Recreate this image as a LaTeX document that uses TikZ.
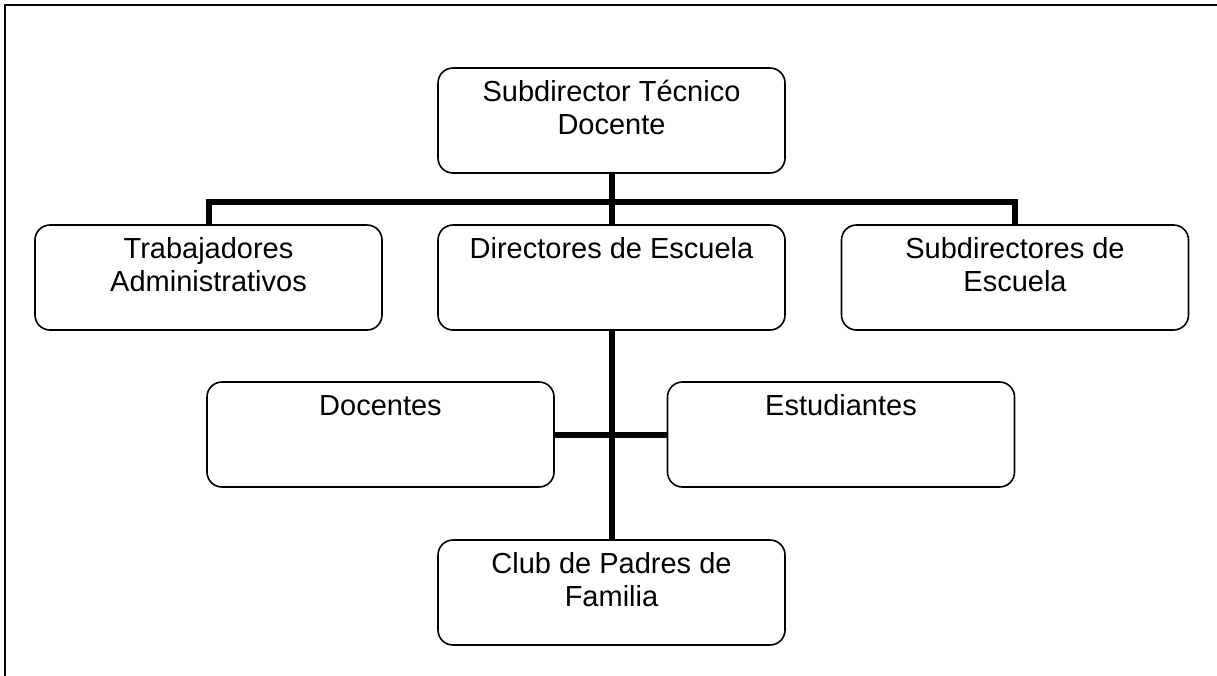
\documentclass[tikz,border=0pt]{standalone}
\usepackage{fontspec}
\setmainfont{Liberation Sans}
\begin{document}
\begin{tikzpicture}[x=1pt,y=-1pt,
  orgbox/.style={draw=black, line width=1.6pt, rounded corners=15pt, fill=white,
    minimum width=347pt, minimum height=105pt, inner sep=0pt},
  lbl/.style={align=center, inner sep=0pt, anchor=base,
    font=\fontsize{29}{33}\selectfont},
  conn/.style={line width=6pt, line join=miter, black},
  frameline/.style={line width=2.5pt, black}]
\useasboundingbox (0,0) rectangle (1217,675);
\draw[frameline] (5,676) -- (5,5) -- (1218,5);

\node[orgbox] (top)  at (611.5,120.5) {};
\node[orgbox] (trab) at (208.5,277.5) {};
\node[orgbox] (dir)  at (611.5,277.5) {};
\node[orgbox] (subd) at (1015,277.5) {};
\node[orgbox] (doc)  at (380.5,434.5) {};
\node[orgbox] (est)  at (841,434.5) {};
\node[orgbox] (club) at (611.5,592.5) {};

% base anchor of a two-line label is its last line
\node[lbl] (ttop)  at ([yshift=-67pt]top.north)  {Subdirector Técnico\\Docente};
\node[lbl] (ttrab) at ([yshift=-67pt]trab.north) {Trabajadores\\Administrativos};
\node[lbl] (tdir)  at ([yshift=-34pt]dir.north)  {Directores de Escuela};
\node[lbl] (tsubd) at ([yshift=-67pt]subd.north) {Subdirectores de\\Escuela};
\node[lbl] (tdoc)  at ([yshift=-34pt]doc.north)  {Docentes};
\node[lbl] (test)  at ([yshift=-34pt]est.north)  {Estudiantes};
\node[lbl] (tclub) at ([yshift=-67pt]club.north) {Club de Padres de\\Familia};

\coordinate (barl) at (208.5,202);
\draw[conn] (trab.north) -- (trab.north |- barl) -- (subd.north |- barl) -- (subd.north);
\draw[conn] (top.south) -- (dir.north);
\draw[conn] (dir.south) -- (club.north);
\draw[conn] (doc.east) -- (est.west);
\end{tikzpicture}
\end{document}
